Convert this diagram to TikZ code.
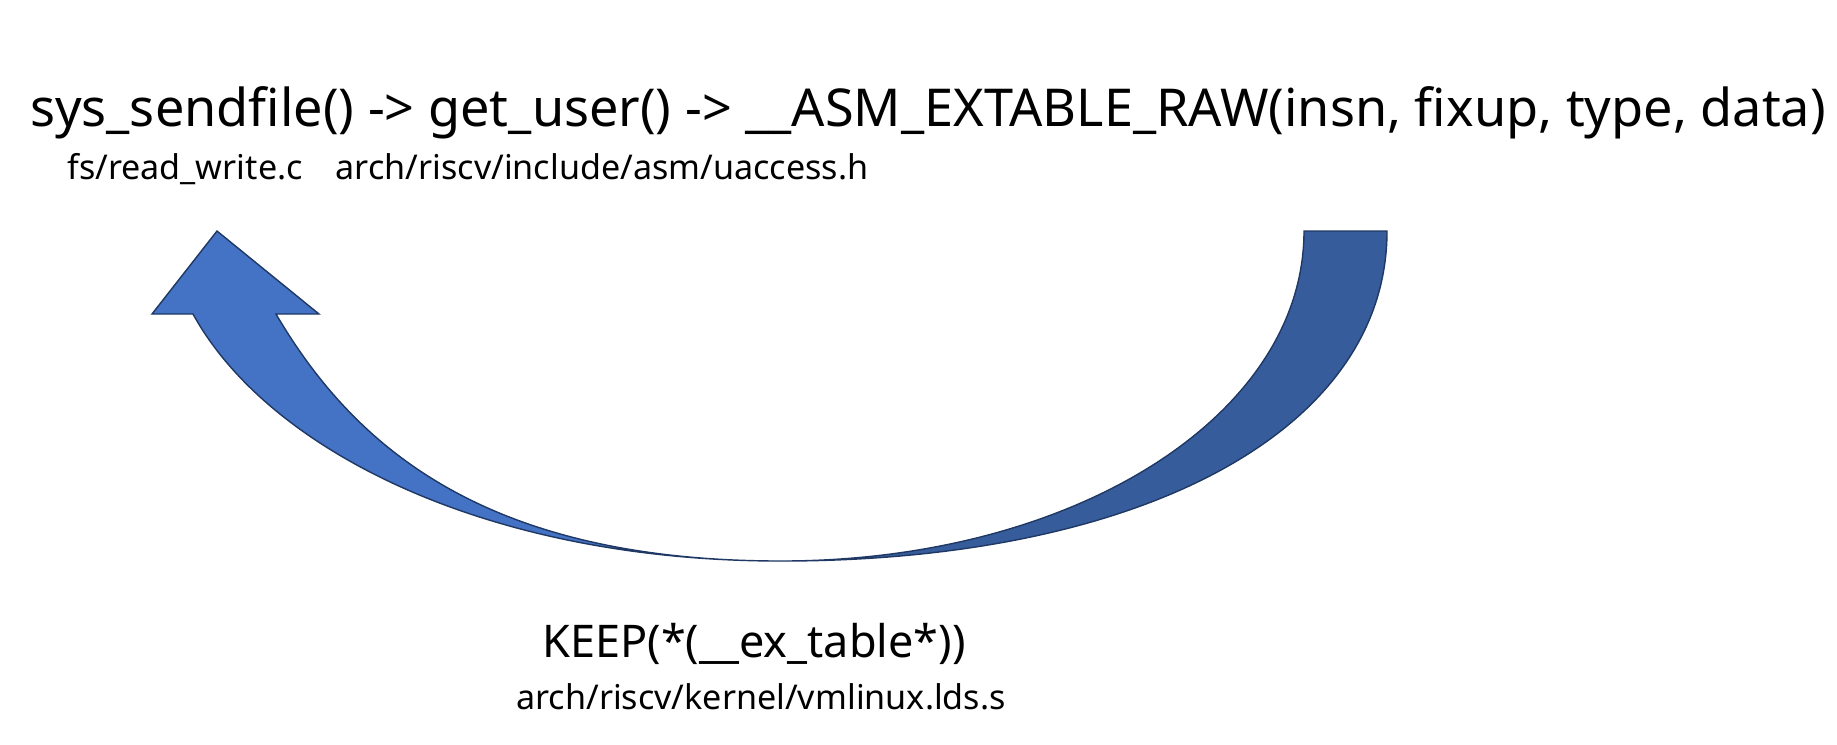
\documentclass[tikz,border=0pt]{standalone}
\usepackage{fontspec}
\setmainfont{Noto Sans}
\usetikzlibrary{positioning}
\definecolor{arrowlight}{HTML}{4472C4}
\definecolor{arrowdark}{HTML}{375C9B}
\definecolor{arrowedge}{HTML}{1F3864}

\begin{document}
\begin{tikzpicture}[x=0.01cm,y=0.01cm,
  call/.style={inner sep=0pt,font=\fontsize{14.85}{17}\selectfont},
  keepline/.style={inner sep=0pt,font=\fontsize{12.8}{15}\selectfont},
  srcfile/.style={inner sep=0pt,font=\fontsize{9.7}{11}\selectfont},
  band/.style={draw=arrowedge,line width=0.4pt,line join=miter}
]
\useasboundingbox (0,0) rectangle (1837,-744);

% call chain and where it lives
\node[call,anchor=base] (chain) at (928,-126) {sys\_sendfile() -> get\_user() -> \_\_ASM\_EXTABLE\_RAW(insn, fixup, type, data)};
\node[srcfile,anchor=base] (rwfile) at (185,-179) {fs/read\_write.c};
\node[srcfile,anchor=base] (uafile) at (602,-179) {arch/riscv/include/asm/uaccess.h};

% linker script side
\node[keepline,anchor=base] (keep) at (754,-657) {KEEP(*(\_\_ex\_table*))};
\node[srcfile,anchor=base] (ldsfile) at (761,-709) {arch/riscv/kernel/vmlinux.lds.s};

% curved arrow: tail half first, head half on top
\coordinate (bottom) at (781,-561);
\draw[band,fill=arrowdark] (1304,-231) -- (1387,-231)
  .. controls (1387,-429) and (1145,-561) .. (bottom)
  .. controls (1074,-561) and (1304,-416) .. cycle;
\draw[band,fill=arrowlight] (bottom)
  .. controls (481,-561) and (266,-447) .. (193,-314)
  -- (152,-314) -- (217,-231) -- (319,-314) -- (276,-314)
  .. controls (357,-452) and (491,-561) .. cycle;
\end{tikzpicture}
\end{document}
